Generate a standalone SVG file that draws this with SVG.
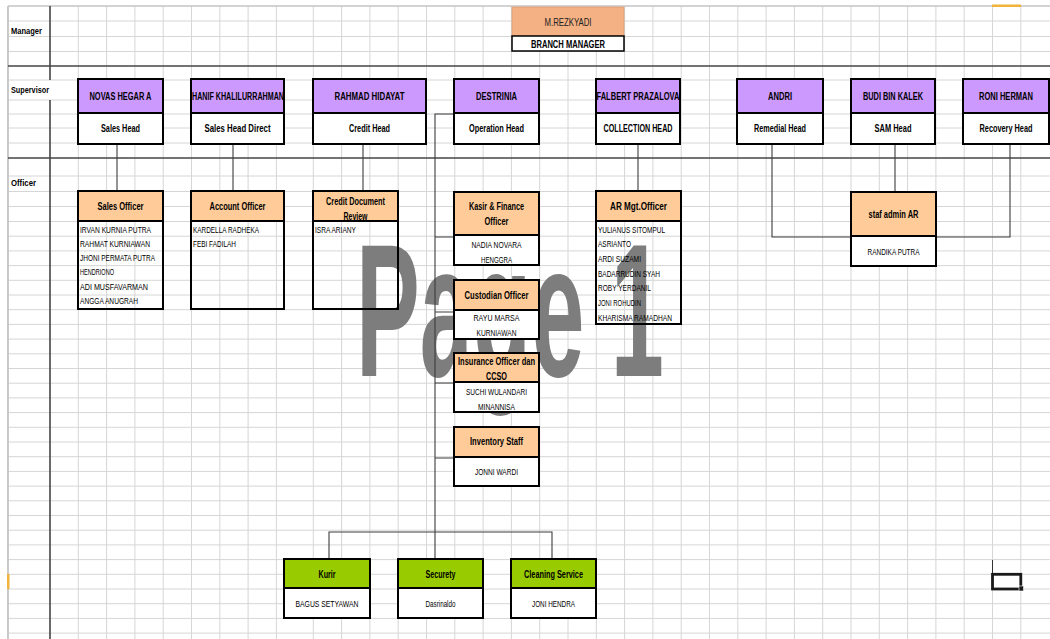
<svg xmlns="http://www.w3.org/2000/svg" width="1050" height="639" viewBox="0 0 1050 639">
<defs>
<style>
.grid{stroke:#d6d6d6;stroke-width:1;fill:none}
.dark{stroke:#454545;stroke-width:1.6;fill:none}
.con{stroke:#3c3c3c;stroke-width:1.1;fill:none}
.pur{fill:#CC99FF}
.org{fill:#FFCC99}
.grn{fill:#99CC00}
.wht{fill:#ffffff}
.ol{fill:none;stroke:#000;stroke-width:2}
text{font-family:"Liberation Sans",Arial,sans-serif;fill:#000}
.b{font-weight:bold;font-size:10px;text-anchor:middle}
.n{font-size:9px;text-anchor:middle}
.l{font-size:9px;text-anchor:start}
.lab{font-weight:bold;font-size:9.5px}
.wm{font-family:"Liberation Sans",sans-serif;font-weight:bold;font-size:190px;fill:#7d7d7d}
</style>
</defs>
<rect x="0" y="0" width="1050" height="639" fill="#ffffff"/>
<g id="gridlines">
<path class="grid" d="M8,21H1050M8,36.5H1050M8,51.5H1050M8,80H1050M8,100H1050M8,114H1050M8,128H1050M8,143H1050M8,176H1050M8,191.5H1050M8,206.5H1050M8,221.5H1050M8,236.2H1050M8,250.9H1050M8,265.6H1050M8,280.3H1050M8,295H1050M8,309.7H1050M8,324.4H1050M8,339.1H1050M8,353.8H1050M8,368.5H1050M8,383.2H1050M8,397.9H1050M8,412.6H1050M8,427.3H1050M8,442H1050M8,456.7H1050M8,471.4H1050M8,486.1H1050M8,500.8H1050M8,515.5H1050M8,530.2H1050M8,544.9H1050M8,559.6H1050M8,574.3H1050M8,589H1050M8,603.7H1050M8,618.4H1050M8,633.1H1050"/>
<path class="grid" d="M78.3,6V639M106.6,6V639M134.9,6V639M163.2,6V639M191.5,6V639M219.8,6V639M248.1,6V639M276.4,6V639M313.3,6V639M341.6,6V639M369.9,6V639M398.2,6V639M426.5,6V639M454.8,6V639M483.1,6V639M511.4,6V639M539.7,6V639M568,6V639M596.3,6V639M624.6,6V639M652.9,6V639M681.2,6V639M709.5,6V639M737.8,6V639M766.1,6V639M794.4,6V639M822.7,6V639M851,6V639M879.3,6V639M907.6,6V639M935.9,6V639M964.2,6V639M992.5,6V639M1020.8,6V639"/>
<path d="M8,6H1050" stroke="#c4c4c4" stroke-width="1.5"/>
<path d="M8,6V639" stroke="#c4c4c4" stroke-width="1.8"/>
<path class="dark" d="M8,66H1050M8,158H1050M50,6V80M50,100V639"/>
<rect x="992" y="4.5" width="29" height="2.5" fill="#F2B33D"/>
<rect x="7" y="574" width="2.5" height="15" fill="#F2B33D"/>
</g>
<g id="labels">
<text class="lab" x="11" y="33.5" textLength="31" lengthAdjust="spacingAndGlyphs">Manager</text>
<text class="lab" x="11" y="92.5" textLength="38" lengthAdjust="spacingAndGlyphs">Supervisor</text>
<text class="lab" x="11" y="185.5" textLength="25" lengthAdjust="spacingAndGlyphs">Officer</text>
</g>
<text class="wm" x="356" y="376" textLength="308" lengthAdjust="spacingAndGlyphs">Page 1</text>
<g id="connectors">
<path class="con" d="M117,144V191"/>
<path class="con" d="M233,144V191"/>
<path class="con" d="M363,144V191"/>
<path class="con" d="M638,144V191"/>
<path class="con" d="M454,114H435V532"/>
<path class="con" d="M435,237H454M435,312H454M435,383H454M435,458H454"/>
<path class="con" d="M329,559V532H552V559M435,532V559"/>
<path class="con" d="M772,144V237H851"/>
<path class="con" d="M895,144V192"/>
<path class="con" d="M1010,144V237H936"/>
</g>
<g id="mgr">
<rect x="512" y="7" width="112" height="29" fill="#F4B183" stroke="#d99870" stroke-width="0.8"/>
<rect x="512" y="36" width="112" height="15" class="wht"/>
<text x="568" y="25.5" textLength="47" lengthAdjust="spacingAndGlyphs" style="font-size:11px;text-anchor:middle;fill:#222">M.REZKYADI</text>
<text class="b" x="568" y="47.5" textLength="74" lengthAdjust="spacingAndGlyphs">BRANCH MANAGER</text>
<rect x="512" y="36" width="112" height="15" fill="none" stroke="#000" stroke-width="1.5"/>
</g>
<g id="sup-novas">
<rect class="pur" x="78" y="79" width="85" height="34"/><rect class="wht" x="78" y="113" width="85" height="31"/>
<text class="b" x="120.5" y="100" textLength="62" lengthAdjust="spacingAndGlyphs">NOVAS HEGAR A</text><text class="b" x="120.5" y="132" textLength="39" lengthAdjust="spacingAndGlyphs">Sales Head</text>
<path class="ol" d="M78,79H163V144H78ZM78,113H163"/>
</g>
<g id="sup-hanif">
<rect class="pur" x="191" y="79" width="93" height="34"/><rect class="wht" x="191" y="113" width="93" height="31"/>
<text class="b" x="238" y="100" textLength="92" lengthAdjust="spacingAndGlyphs">HANIF KHALILURRAHMAN</text><text class="b" x="237.5" y="132" textLength="66" lengthAdjust="spacingAndGlyphs">Sales Head Direct</text>
<path class="ol" d="M191,79H284V144H191ZM191,113H284"/>
</g>
<g id="sup-rahmad">
<rect class="pur" x="313" y="79" width="113" height="34"/><rect class="wht" x="313" y="113" width="113" height="31"/>
<text class="b" x="369.5" y="100" textLength="70" lengthAdjust="spacingAndGlyphs">RAHMAD HIDAYAT</text><text class="b" x="369.5" y="132" textLength="41" lengthAdjust="spacingAndGlyphs">Credit Head</text>
<path class="ol" d="M313,79H426V144H313ZM313,113H426"/>
</g>
<g id="sup-destrinia">
<rect class="pur" x="454" y="79" width="85" height="34"/><rect class="wht" x="454" y="113" width="85" height="31"/>
<text class="b" x="496.5" y="100" textLength="41" lengthAdjust="spacingAndGlyphs">DESTRINIA</text><text class="b" x="496.5" y="132" textLength="55" lengthAdjust="spacingAndGlyphs">Operation Head</text>
<path class="ol" d="M454,79H539V144H454ZM454,113H539"/>
</g>
<g id="sup-falbert">
<rect class="pur" x="596" y="79" width="84" height="34"/><rect class="wht" x="596" y="113" width="84" height="31"/>
<text class="b" x="638" y="100" textLength="83" lengthAdjust="spacingAndGlyphs">FALBERT PRAZALOVA</text><text class="b" x="638" y="132" textLength="69" lengthAdjust="spacingAndGlyphs">COLLECTION HEAD</text>
<path class="ol" d="M596,79H680V144H596ZM596,113H680"/>
</g>
<g id="sup-andri">
<rect class="pur" x="737" y="79" width="86" height="34"/><rect class="wht" x="737" y="113" width="86" height="31"/>
<text class="b" x="780" y="100" textLength="24" lengthAdjust="spacingAndGlyphs">ANDRI</text><text class="b" x="780" y="132" textLength="52" lengthAdjust="spacingAndGlyphs">Remedial Head</text>
<path class="ol" d="M737,79H823V144H737ZM737,113H823"/>
</g>
<g id="sup-budi">
<rect class="pur" x="851" y="79" width="84" height="34"/><rect class="wht" x="851" y="113" width="84" height="31"/>
<text class="b" x="893" y="100" textLength="60" lengthAdjust="spacingAndGlyphs">BUDI BIN KALEK</text><text class="b" x="893" y="132" textLength="37" lengthAdjust="spacingAndGlyphs">SAM Head</text>
<path class="ol" d="M851,79H935V144H851ZM851,113H935"/>
</g>
<g id="sup-roni">
<rect class="pur" x="963" y="79" width="86" height="34"/><rect class="wht" x="963" y="113" width="86" height="31"/>
<text class="b" x="1006" y="100" textLength="54" lengthAdjust="spacingAndGlyphs">RONI HERMAN</text><text class="b" x="1006" y="132" textLength="53" lengthAdjust="spacingAndGlyphs">Recovery Head</text>
<path class="ol" d="M963,79H1049V144H963ZM963,113H1049"/>
</g>
<g id="off-sales">
<rect class="org" x="78" y="191" width="85" height="30"/>
<text class="b" x="120.5" y="210" textLength="46" lengthAdjust="spacingAndGlyphs">Sales Officer</text>
<text class="l" x="80" y="232.5" textLength="71" lengthAdjust="spacingAndGlyphs">IRVAN KURNIA PUTRA</text>
<text class="l" x="80" y="246.8" textLength="70" lengthAdjust="spacingAndGlyphs">RAHMAT KURNIAWAN</text>
<text class="l" x="80" y="261.1" textLength="75" lengthAdjust="spacingAndGlyphs">JHONI PERMATA PUTRA</text>
<text class="l" x="80" y="275.4" textLength="34" lengthAdjust="spacingAndGlyphs">HENDRIONO</text>
<text class="l" x="80" y="289.7" textLength="68" lengthAdjust="spacingAndGlyphs">ADI MUSFAVARMAN</text>
<text class="l" x="80" y="304" textLength="58" lengthAdjust="spacingAndGlyphs">ANGGA ANUGRAH</text>
<path class="ol" d="M78,191H163V309H78ZM78,221H163"/>
</g>
<g id="off-account">
<rect class="org" x="191" y="191" width="93" height="30"/>
<text class="b" x="237.5" y="210" textLength="56" lengthAdjust="spacingAndGlyphs">Account Officer</text>
<text class="l" x="193" y="232.5" textLength="66" lengthAdjust="spacingAndGlyphs">KARDELLA RADHEKA</text>
<text class="l" x="193" y="246.8" textLength="43" lengthAdjust="spacingAndGlyphs">FEBI FADILAH</text>
<path class="ol" d="M191,191H284V309H191ZM191,221H284"/>
</g>
<g id="off-creditdoc">
<rect class="org" x="313" y="191" width="85" height="30"/>
<text class="b" x="355.5" y="205" textLength="59" lengthAdjust="spacingAndGlyphs">Credit Document</text>
<text class="b" x="355.5" y="220" textLength="24" lengthAdjust="spacingAndGlyphs">Review</text>
<text class="l" x="315" y="232.5" textLength="41" lengthAdjust="spacingAndGlyphs">ISRA ARIANY</text>
<path class="ol" d="M313,191H398V309H313ZM313,221H398"/>
</g>
<g id="off-kasir">
<rect class="org" x="454" y="192" width="85" height="43"/><rect class="wht" x="454" y="235" width="85" height="30"/>
<text class="b" x="496.5" y="210" textLength="55" lengthAdjust="spacingAndGlyphs">Kasir &amp; Finance</text>
<text class="b" x="496.5" y="225" textLength="24" lengthAdjust="spacingAndGlyphs">Officer</text>
<text class="n" x="496.5" y="248" textLength="50" lengthAdjust="spacingAndGlyphs">NADIA NOVARA</text>
<text class="n" x="496.5" y="262.5" textLength="31" lengthAdjust="spacingAndGlyphs">HENGGRA</text>
<path class="ol" d="M454,192H539V265H454ZM454,235H539"/>
</g>
<g id="off-custodian">
<rect class="org" x="454" y="280" width="85" height="30"/><rect class="wht" x="454" y="310" width="85" height="29"/>
<text class="b" x="496.5" y="298.5" textLength="64" lengthAdjust="spacingAndGlyphs">Custodian Officer</text>
<text class="n" x="496.5" y="320.5" textLength="46" lengthAdjust="spacingAndGlyphs">RAYU MARSA</text>
<text class="n" x="496.5" y="336" textLength="40" lengthAdjust="spacingAndGlyphs">KURNIAWAN</text>
<path class="ol" d="M454,280H539V339H454ZM454,310H539"/>
</g>
<g id="off-insurance">
<rect class="org" x="454" y="353" width="85" height="29"/><rect class="wht" x="454" y="382" width="85" height="30"/>
<text class="b" x="496.5" y="365" textLength="77" lengthAdjust="spacingAndGlyphs">Insurance Officer dan</text>
<text class="b" x="496.5" y="380" textLength="21" lengthAdjust="spacingAndGlyphs">CCSO</text>
<text class="n" x="496.5" y="395" textLength="61" lengthAdjust="spacingAndGlyphs">SUCHI WULANDARI</text>
<text class="n" x="496.5" y="409.5" textLength="37" lengthAdjust="spacingAndGlyphs">MINANNISA</text>
<path class="ol" d="M454,353H539V412H454ZM454,382H539"/>
</g>
<g id="off-inventory">
<rect class="org" x="454" y="427" width="85" height="30"/><rect class="wht" x="454" y="457" width="85" height="29"/>
<text class="b" x="496.5" y="445" textLength="53" lengthAdjust="spacingAndGlyphs">Inventory Staff</text>
<text class="n" x="496.5" y="475" textLength="43" lengthAdjust="spacingAndGlyphs">JONNI WARDI</text>
<path class="ol" d="M454,427H539V486H454ZM454,457H539"/>
</g>
<g id="off-ar">
<rect class="org" x="596" y="191" width="85" height="30"/>
<text class="b" x="638.5" y="210" textLength="57" lengthAdjust="spacingAndGlyphs">AR Mgt.Officer</text>
<text class="l" x="598" y="232.5" textLength="67" lengthAdjust="spacingAndGlyphs">YULIANUS SITOMPUL</text>
<text class="l" x="598" y="247.2" textLength="33" lengthAdjust="spacingAndGlyphs">ASRIANTO</text>
<text class="l" x="598" y="261.9" textLength="43" lengthAdjust="spacingAndGlyphs">ARDI SUZAMI</text>
<text class="l" x="598" y="276.6" textLength="62" lengthAdjust="spacingAndGlyphs">BADARRUDIN SYAH</text>
<text class="l" x="598" y="291.3" textLength="53" lengthAdjust="spacingAndGlyphs">ROBY YERDANIL</text>
<text class="l" x="598" y="306" textLength="43" lengthAdjust="spacingAndGlyphs">JONI ROHUDIN</text>
<text class="l" x="598" y="320.7" textLength="74" lengthAdjust="spacingAndGlyphs">KHARISMA RAMADHAN</text>
<path class="ol" d="M596,191H681V324H596ZM596,221H681"/>
</g>
<g id="off-stafadmin">
<rect class="org" x="851" y="192" width="85" height="44"/><rect class="wht" x="851" y="236" width="85" height="30"/>
<text class="b" x="893.5" y="217.5" textLength="50" lengthAdjust="spacingAndGlyphs">staf admin AR</text>
<text class="n" x="893.5" y="254.5" textLength="52" lengthAdjust="spacingAndGlyphs">RANDIKA PUTRA</text>
<path class="ol" d="M851,192H936V266H851ZM851,236H936"/>
</g>
<g id="kurir">
<rect class="grn" x="284" y="559" width="86" height="29"/><rect class="wht" x="284" y="588" width="86" height="30"/>
<text class="b" x="327" y="577.5" textLength="17" lengthAdjust="spacingAndGlyphs">Kurir</text>
<text class="n" x="327" y="606.5" textLength="63" lengthAdjust="spacingAndGlyphs">BAGUS SETYAWAN</text>
<path class="ol" d="M284,559H370V618H284ZM284,588H370"/>
</g>
<g id="security">
<rect class="grn" x="398" y="559" width="85" height="29"/><rect class="wht" x="398" y="588" width="85" height="30"/>
<text class="b" x="440.5" y="577.5" textLength="30" lengthAdjust="spacingAndGlyphs">Securety</text>
<text class="n" x="440.5" y="606.5" textLength="30" lengthAdjust="spacingAndGlyphs">Dasrinaldo</text>
<path class="ol" d="M398,559H483V618H398ZM398,588H483"/>
</g>
<g id="cleaning">
<rect class="grn" x="511" y="559" width="85" height="29"/><rect class="wht" x="511" y="588" width="85" height="30"/>
<text class="b" x="553.5" y="577.5" textLength="59" lengthAdjust="spacingAndGlyphs">Cleaning Service</text>
<text class="n" x="553.5" y="606.5" textLength="43" lengthAdjust="spacingAndGlyphs">JONI HENDRA</text>
<path class="ol" d="M511,559H596V618H511ZM511,588H596"/>
</g>
<g id="selection">
<path d="M992.5,560V574" stroke="#333" stroke-width="1"/>
<rect x="992.5" y="574.3" width="28.3" height="14.7" fill="none" stroke="#1a1a1a" stroke-width="2.8"/>
<rect x="1019" y="586" width="4.5" height="5" fill="#1a1a1a" stroke="#fff" stroke-width="0.6"/>
</g>
</svg>
